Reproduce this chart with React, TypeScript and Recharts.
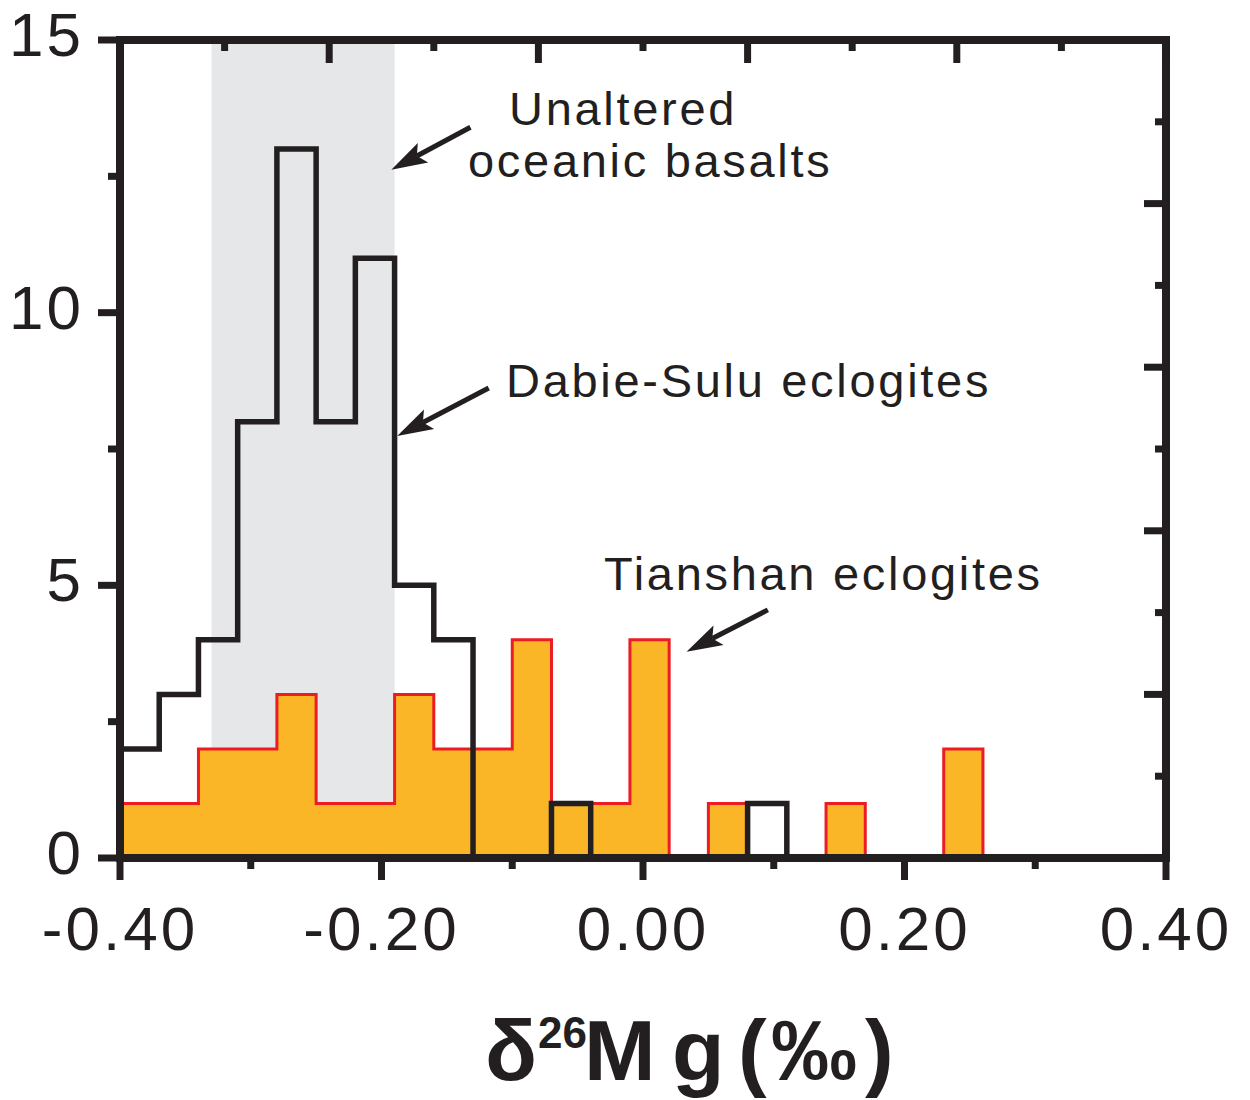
import { Area, ComposedChart, Line, ReferenceArea, ReferenceLine, XAxis, YAxis } from "recharts";

// histogram bins of δ26Mg, 0.03‰ wide (left edges + closing edge)
const binEdges = [
  -0.4, -0.37, -0.34, -0.31, -0.28, -0.25, -0.22, -0.19, -0.16, -0.13, -0.1, -0.07,
  -0.04, -0.01, 0.02, 0.05, 0.08, 0.11, 0.14, 0.17, 0.2, 0.23, 0.26
];
const dabieSuluCounts = [2, 3, 4, 8, 13, 8, 11, 5, 4, 0, 0, 1, 0, 0, 0, 0, 1, 0, 0, 0, 0, 0];
const tianshanCounts = [1, 1, 2, 2, 3, 1, 1, 3, 2, 2, 4, 1, 1, 4, 0, 1, 0, 0, 1, 0, 0, 2];

// range of unaltered oceanic basalts
const basaltRange = [-0.33, -0.19];

const bottomTicks = [-0.4, -0.3, -0.2, -0.1, 0, 0.1, 0.2, 0.3, 0.4];
const topTicks = [-0.4, -0.32, -0.24, -0.16, -0.08, 0, 0.08, 0.16, 0.24, 0.32, 0.4];
const leftTicks = [0, 2.5, 5, 7.5, 10, 12.5, 15];
const rightTicks = [0, 1.5, 3, 4.5, 6, 7.5, 9, 10.5, 12, 13.5, 15];

// arrows: [tail, tip] in data units
const arrows = [
  [{ x: -0.132, y: 13.4 }, { x: -0.1925, y: 12.62 }],
  [{ x: -0.118, y: 8.62 }, { x: -0.188, y: 7.74 }],
  [{ x: 0.0955, y: 4.55 }, { x: 0.0333, y: 3.78 }]
];

const data = binEdges.map((x, i) => ({
  x,
  dabie: dabieSuluCounts[i] ?? 0,
  tianshan: tianshanCounts[i] ?? 0
}));

const INK = "#231f20";
const ORANGE = "#fbb627";
const RED = "#ed1c24";
const BAND = "#e6e7e8";
const FONT = "'Liberation Sans', Arial, Helvetica, sans-serif";

const axisLine = { stroke: INK, strokeWidth: 8, strokeLinecap: "square" as const };
const labelStyle = { fontFamily: FONT, fontSize: 62, fill: INK, letterSpacing: 3 };

function BottomTick({ x, y, payload }: any) {
  const v = payload.value;
  const major = Math.round(v * 10) % 2 === 0;
  return (
    <g>
      <line x1={x} x2={x} y1={y} y2={y + (major ? 22 : 11)} stroke={INK} strokeWidth={7} />
      {major && (
        <text x={x} y={y + 92} textAnchor="middle" {...labelStyle}>
          {v.toFixed(2)}
        </text>
      )}
    </g>
  );
}

function TopTick({ x, y, payload }: any) {
  const major = Math.abs(Math.round(payload.value / 0.08)) % 2 === 1;
  return <line x1={x} x2={x} y1={y} y2={y + (major ? 23 : 11)} stroke={INK} strokeWidth={7} />;
}

function LeftTick({ x, y, payload }: any) {
  const v = payload.value;
  const major = v % 5 === 0;
  return (
    <g>
      <line x1={x} x2={x - (major ? 22 : 12)} y1={y} y2={y} stroke={INK} strokeWidth={7} />
      {major && (
        <text x={x - 36} y={y + 16} textAnchor="end" {...labelStyle}>
          {v}
        </text>
      )}
    </g>
  );
}

function RightTick({ x, y, payload }: any) {
  const major = payload.value % 3 === 0;
  return <line x1={x} x2={x - (major ? 22 : 11)} y1={y} y2={y} stroke={INK} strokeWidth={7} />;
}

function Arrow({ x1, y1, x2, y2 }: any) {
  const len = Math.hypot(x2 - x1, y2 - y1);
  const ux = (x2 - x1) / len;
  const uy = (y2 - y1) / len;
  const head = 36;
  const half = 11;
  const notch = 7;
  const bx = x2 - ux * head;
  const by = y2 - uy * head;
  const nx = x2 - ux * (head - notch);
  const ny = y2 - uy * (head - notch);
  const pts = [
    [x2, y2],
    [bx - uy * half, by + ux * half],
    [nx, ny],
    [bx + uy * half, by - ux * half]
  ]
    .map((p) => p.join(","))
    .join(" ");
  return (
    <g>
      <line x1={x1} y1={y1} x2={nx} y2={ny} stroke={INK} strokeWidth={5} />
      <polygon points={pts} fill={INK} />
    </g>
  );
}

const noteStyle = { fontFamily: FONT, fontSize: 47, fill: INK, letterSpacing: 2.7 };

export default function App() {
  return (
    <div style={{ position: "absolute", left: 0, top: 0, width: 1250, height: 1100 }}>
      <ComposedChart
        width={1250}
        height={1100}
        data={data}
        margin={{ top: 39, right: 83, bottom: 241, left: 119 }}
      >
        <ReferenceArea
          xAxisId="b"
          yAxisId="l"
          x1={basaltRange[0]}
          x2={basaltRange[1]}
          fill={BAND}
          fillOpacity={1}
          stroke="none"
        />
        <Area
          xAxisId="b"
          yAxisId="l"
          type="stepAfter"
          dataKey="tianshan"
          fill={ORANGE}
          fillOpacity={1}
          stroke={RED}
          strokeWidth={3}
          isAnimationActive={false}
          activeDot={false}
        />
        <Line
          xAxisId="b"
          yAxisId="l"
          type="stepAfter"
          dataKey="dabie"
          stroke={INK}
          strokeWidth={5.5}
          dot={false}
          activeDot={false}
          isAnimationActive={false}
        />
        {arrows.map((seg, i) => (
          <ReferenceLine key={i} xAxisId="b" yAxisId="l" segment={seg} shape={Arrow} />
        ))}
        <XAxis
          xAxisId="b"
          dataKey="x"
          type="number"
          domain={[-0.4, 0.4]}
          allowDataOverflow
          ticks={bottomTicks}
          interval={0}
          height={1}
          tickSize={0}
          tickMargin={0}
          tickLine={false}
          axisLine={axisLine}
          tick={BottomTick}
        />
        <XAxis
          xAxisId="t"
          orientation="top"
          dataKey="x"
          type="number"
          domain={[-0.4, 0.4]}
          allowDataOverflow
          ticks={topTicks}
          interval={0}
          height={1}
          tickSize={0}
          tickMargin={0}
          tickLine={false}
          axisLine={axisLine}
          tick={TopTick}
        />
        <YAxis
          yAxisId="l"
          type="number"
          domain={[0, 15]}
          allowDataOverflow
          ticks={leftTicks}
          interval={0}
          width={1}
          tickSize={0}
          tickMargin={0}
          tickLine={false}
          axisLine={axisLine}
          tick={LeftTick}
        />
        <YAxis
          yAxisId="r"
          orientation="right"
          type="number"
          domain={[0, 15]}
          allowDataOverflow
          ticks={rightTicks}
          interval={0}
          width={1}
          tickSize={0}
          tickMargin={0}
          tickLine={false}
          axisLine={axisLine}
          tick={RightTick}
        />
      </ComposedChart>
      <svg
        width={1250}
        height={1100}
        style={{ position: "absolute", left: 0, top: 0, pointerEvents: "none" }}
      >
        <text x={509} y={125} {...noteStyle}>Unaltered</text>
        <text x={468} y={177} {...noteStyle}>oceanic basalts</text>
        <text x={506} y={397} {...noteStyle}>Dabie-Sulu eclogites</text>
        <text x={604} y={590} {...noteStyle}>Tianshan eclogites</text>
        <g fontFamily={FONT} fontWeight="bold" fill={INK} fontSize={86}>
          <text x={485} y={1080}>δ</text>
          <text x={538} y={1048} fontSize={44}>26</text>
          <text x={584} y={1080}>M</text>
          <text x={672} y={1080}>g</text>
          <text x={738} y={1080}>(</text>
          <text x={771} y={1080}>‰</text>
          <text x={865} y={1080}>)</text>
        </g>
      </svg>
    </div>
  );
}
